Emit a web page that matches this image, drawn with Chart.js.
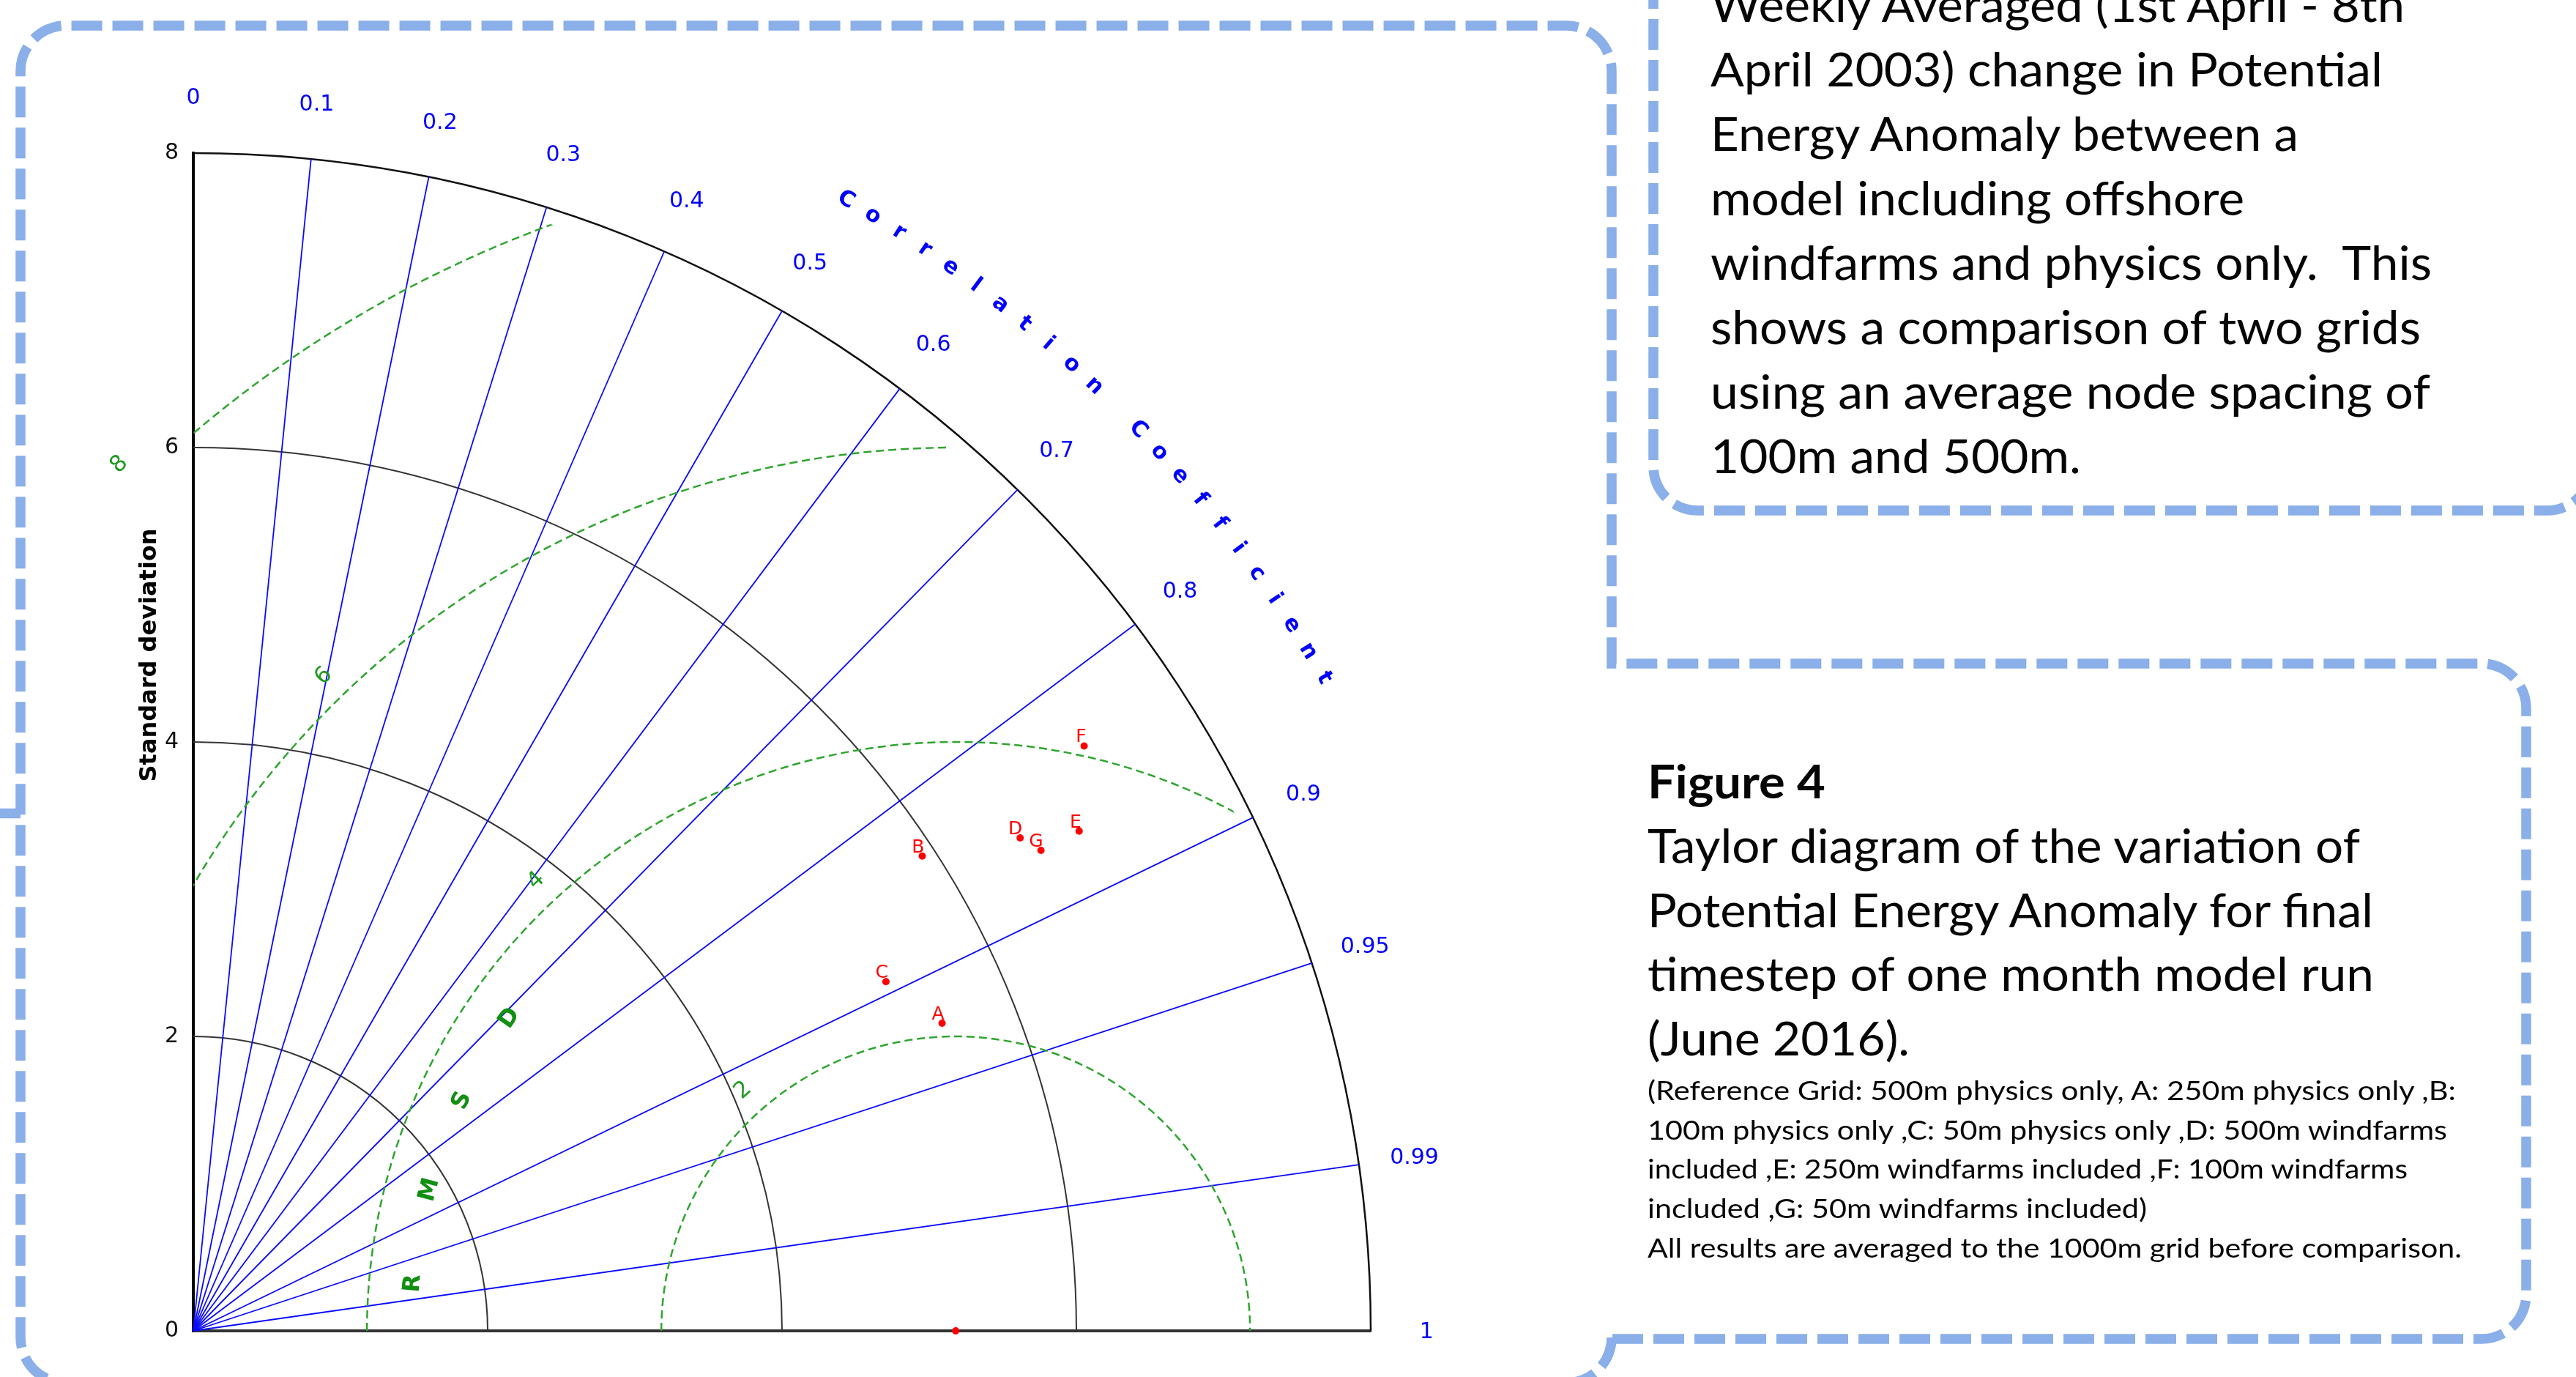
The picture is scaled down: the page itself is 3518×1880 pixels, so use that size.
<!DOCTYPE html>
<html>
<head>
<meta charset="utf-8">
<title>Taylor diagram – Potential Energy Anomaly</title>
<script src="https://cdn.jsdelivr.net/npm/chart.js@4.4.1/dist/chart.umd.min.js"></script>
<style>
  html, body { margin: 0; padding: 0; background: #fff; }
  body { width: 3518px; height: 1880px; position: relative; overflow: hidden; }
  #taylor { position: absolute; left: 0; top: 0; }
  #poster { position: absolute; left: 0; top: 0; pointer-events: none; }
  #poster text { font-family: Lato, "Open Sans", sans-serif; fill: #050505; }
</style>
</head>
<body>
<canvas id="taylor" width="2200" height="1880"></canvas>

<svg id="poster" width="3518" height="1880" viewBox="0 0 3518 1880">
  <g fill="none" stroke="#8aafe9" stroke-width="13.5" stroke-dasharray="42 14">
    <path d="M 2202 1828 L 3389 1828 A 61 61 0 0 0 3450 1767 L 3450 967 A 61 61 0 0 0 3389 906 L 2201 906 L 2201 97 A 62 62 0 0 0 2139 35 L 90 35 A 62 62 0 0 0 28 97 L 28 1826 A 62 62 0 0 0 90 1888"/>
    <path d="M 2201 1826 A 62 62 0 0 1 2139 1888"/>
    <path d="M 2258 -30 L 2258 637 A 60 60 0 0 0 2318 697 L 3479 697 A 60 60 0 0 0 3539 637 L 3539 -30"/>
  </g>
  <path d="M 0 1110.5 L 28 1110.5" stroke="#8aafe9" stroke-width="13.5" fill="none"/>

  <g font-size="63">
    <text x="2336" y="30" textLength="948" lengthAdjust="spacingAndGlyphs">Weekly Averaged (1st April - 8th</text>
    <text x="2336" y="118" textLength="918" lengthAdjust="spacingAndGlyphs">April 2003) change in Potential</text>
    <text x="2336" y="206" textLength="803" lengthAdjust="spacingAndGlyphs">Energy Anomaly between a</text>
    <text x="2336" y="294" textLength="729" lengthAdjust="spacingAndGlyphs">model including offshore</text>
    <text x="2336" y="382" textLength="985" lengthAdjust="spacingAndGlyphs">windfarms and physics only.&#160; This</text>
    <text x="2336" y="470" textLength="970" lengthAdjust="spacingAndGlyphs">shows a comparison of two grids</text>
    <text x="2336" y="558" textLength="983" lengthAdjust="spacingAndGlyphs">using an average node spacing of</text>
    <text x="2336" y="646" textLength="506" lengthAdjust="spacingAndGlyphs">100m and 500m.</text>
  </g>

  <g font-size="63">
    <text x="2250" y="1090" font-weight="700" textLength="243" lengthAdjust="spacingAndGlyphs">Figure 4</text>
    <text x="2250" y="1178" textLength="973" lengthAdjust="spacingAndGlyphs">Taylor diagram of the variation of</text>
    <text x="2250" y="1266" textLength="991" lengthAdjust="spacingAndGlyphs">Potential Energy Anomaly for final</text>
    <text x="2250" y="1353" textLength="992" lengthAdjust="spacingAndGlyphs">timestep of one month model run</text>
    <text x="2250" y="1441" textLength="358" lengthAdjust="spacingAndGlyphs">(June 2016).</text>
  </g>
  <g font-size="36">
    <text x="2250" y="1502" textLength="1104" lengthAdjust="spacingAndGlyphs">(Reference Grid: 500m physics only, A: 250m physics only ,B:</text>
    <text x="2250" y="1556" textLength="1092" lengthAdjust="spacingAndGlyphs">100m physics only ,C: 50m physics only ,D: 500m windfarms</text>
    <text x="2250" y="1609" textLength="1038" lengthAdjust="spacingAndGlyphs">included ,E: 250m windfarms included ,F: 100m windfarms</text>
    <text x="2250" y="1663" textLength="682" lengthAdjust="spacingAndGlyphs">included ,G: 50m windfarms included)</text>
    <text x="2250" y="1717" textLength="1112" lengthAdjust="spacingAndGlyphs">All results are averaged to the 1000m grid before comparison.</text>
  </g>
</svg>

<script>
// model runs compared against the 500m physics-only reference grid
const modelNames = ['A', 'B', 'C', 'D', 'E', 'F', 'G'];
const modelStd   = [5.50, 5.91, 5.27, 6.54, 6.91, 7.24, 6.62];
const modelCorr  = [0.925, 0.838, 0.893, 0.859, 0.871, 0.836, 0.870];
const refStd = 5.18;

// axes of the diagram
const stdTicks = [0, 2, 4, 6, 8];
const corrTicks = [0, 0.1, 0.2, 0.3, 0.4, 0.5, 0.6, 0.7, 0.8, 0.9, 0.95, 0.99, 1];
const corrTickLabels = ['0', '0.1', '0.2', '0.3', '0.4', '0.5', '0.6', '0.7', '0.8', '0.9', '0.95', '0.99', '1'];
const rmsdLevels = [2, 4, 6, 8];
const rmsdLevelLabels = ['2', '4', '6', '8'];

const corrTitle = 'Correlation Coefficient';
const rmsdTitle = 'RMSD';
const stdTitle = 'Standard deviation';

const FONT = "'DejaVu Sans', Verdana, sans-serif";
const deg = Math.PI / 180;

// where each contour label sits, as an angle around the reference point
const rmsdLabelAngle = { 2: 131.5, 4: 133, 6: 134, 8: 134 };

// model points in cartesian form (x = s*R, y = s*sqrt(1-R^2))
const modelPoints = modelNames.map((n, i) => ({
  x: modelStd[i] * modelCorr[i],
  y: modelStd[i] * Math.sqrt(1 - modelCorr[i] * modelCorr[i]),
  name: n
}));

function drawRotated(ctx, str, cx, cy, rot) {
  ctx.save();
  ctx.translate(cx, cy);
  ctx.rotate(rot);
  ctx.fillText(str, 0, 0);
  ctx.restore();
}

// polar grid, RMSD contours and all the diagram labels
const taylorGrid = {
  id: 'taylorGrid',
  beforeDatasetsDraw(chart) {
    const { ctx } = chart;
    const { x, y } = chart.scales;
    const ox = x.getPixelForValue(0), oy = y.getPixelForValue(0);
    const len = v => x.getPixelForValue(v) - ox;
    const rMax = stdTicks[stdTicks.length - 1];

    ctx.save();

    // standard deviation arcs
    stdTicks.slice(1).forEach(s => {
      ctx.beginPath();
      ctx.arc(ox, oy, len(s), -Math.PI / 2, 0);
      ctx.lineWidth = s === rMax ? 2.5 : 2;
      ctx.strokeStyle = s === rMax ? '#111' : '#353535';
      ctx.stroke();
    });

    // correlation rays
    ctx.strokeStyle = '#0a0aff';
    ctx.lineWidth = 1.8;
    corrTicks.forEach(c => {
      if (c === 0 || c === 1) return;
      const a = Math.acos(c);
      ctx.beginPath();
      ctx.moveTo(ox, oy);
      ctx.lineTo(x.getPixelForValue(rMax * Math.cos(a)), y.getPixelForValue(rMax * Math.sin(a)));
      ctx.stroke();
    });

    // centred RMS difference contours around the reference
    ctx.save();
    ctx.beginPath();
    ctx.moveTo(ox, oy);
    ctx.arc(ox, oy, len(7.9), -Math.PI / 2, 0);
    ctx.closePath();
    ctx.clip();
    const rx = x.getPixelForValue(refStd);
    ctx.strokeStyle = '#2ea52e';
    ctx.lineWidth = 2.5;
    ctx.setLineDash([11, 6]);
    rmsdLevels.forEach(r => {
      ctx.beginPath();
      ctx.arc(rx, oy, len(r), Math.PI, 2 * Math.PI);
      ctx.stroke();
    });
    ctx.restore();

    ctx.restore();
  },
  afterDatasetsDraw(chart) {
    const { ctx } = chart;
    const { x, y } = chart.scales;
    const ox = x.getPixelForValue(0);
    const polar = (r, a) => [x.getPixelForValue(r * Math.cos(a)), y.getPixelForValue(r * Math.sin(a))];

    ctx.save();
    ctx.textAlign = 'center';
    ctx.textBaseline = 'middle';

    // correlation tick labels
    ctx.fillStyle = '#0000ff';
    ctx.font = '30px ' + FONT;
    corrTicks.forEach((c, i) => {
      const [px, py] = polar(8.38, Math.acos(c));
      ctx.fillText(corrTickLabels[i], px, py + 2);
    });

    // correlation title along the outer arc
    ctx.font = 'bold 30px ' + FONT;
    const n = corrTitle.length;
    for (let i = 0; i < n; i++) {
      const a = (60 - i * 30 / (n - 1)) * deg;
      const [px, py] = polar(8.87, a);
      drawRotated(ctx, corrTitle[i], px, py, Math.PI / 2 - a);
    }

    // RMSD contour labels
    ctx.fillStyle = '#229a22';
    ctx.font = '31px ' + FONT;
    rmsdLevels.forEach((r, i) => {
      const a = rmsdLabelAngle[r] * deg;
      const px = x.getPixelForValue(refStd + (r + 0.18) * Math.cos(a));
      const py = y.getPixelForValue((r + 0.18) * Math.sin(a));
      drawRotated(ctx, rmsdLevelLabels[i], px, py, Math.PI / 2 - a);
    });

    // RMSD title around the reference point
    ctx.fillStyle = '#119011';
    ctx.font = 'bold 32px ' + FONT;
    for (let i = 0; i < rmsdTitle.length; i++) {
      const a = (175 - i * 10) * deg;
      const px = x.getPixelForValue(refStd + 3.7 * Math.cos(a));
      const py = y.getPixelForValue(3.7 * Math.sin(a));
      drawRotated(ctx, rmsdTitle[i], px, py, Math.PI / 2 - a);
    }

    // y axis title
    ctx.fillStyle = '#000';
    ctx.font = 'bold 32px ' + FONT;
    drawRotated(ctx, stdTitle, ox - 59, y.getPixelForValue(4.59), -Math.PI / 2);

    // model point letters
    ctx.fillStyle = '#ff0000';
    ctx.font = '25px ' + FONT;
    ctx.textAlign = 'right';
    ctx.textBaseline = 'alphabetic';
    chart.getDatasetMeta(1).data.forEach((pt, i) => {
      ctx.fillText(modelNames[i], pt.x + 3, pt.y - 5);
    });

    ctx.restore();
  }
};

new Chart(document.getElementById('taylor'), {
  type: 'scatter',
  data: {
    datasets: [
      {
        label: 'Reference',
        data: [{ x: refStd, y: 0 }],
        pointRadius: 5,
        backgroundColor: '#ff0000',
        borderWidth: 0,
        clip: false
      },
      {
        label: 'Models',
        data: modelPoints,
        pointRadius: 5,
        backgroundColor: '#ff0000',
        borderWidth: 0,
        clip: false
      }
    ]
  },
  options: {
    responsive: false,
    animation: false,
    layout: { padding: { left: 0, top: 209, right: 328, bottom: 63 } },
    plugins: {
      legend: { display: false },
      tooltip: { enabled: false }
    },
    scales: {
      x: {
        type: 'linear',
        min: 0,
        max: 8,
        ticks: { display: false },
        grid: { display: false, drawTicks: false },
        border: { color: '#333', width: 4 },
        afterFit(scale) { scale.height = 0; }
      },
      y: {
        type: 'linear',
        min: 0,
        max: 8,
        afterBuildTicks(scale) { scale.ticks = stdTicks.map(v => ({ value: v })); },
        ticks: { color: '#111', padding: 20, font: { family: FONT, size: 30 } },
        grid: { display: false, drawTicks: false },
        border: { color: '#000', width: 4 },
        afterFit(scale) { scale.width = 264; }
      }
    }
  },
  plugins: [taylorGrid]
});
</script>
</body>
</html>
